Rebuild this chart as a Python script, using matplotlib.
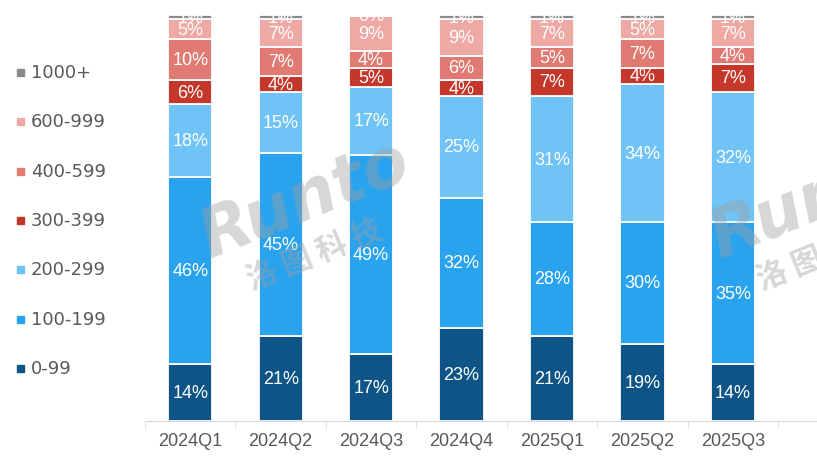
import matplotlib
matplotlib.use("Agg")
import matplotlib.pyplot as plt
import numpy as np

quarters = ["2024Q1", "2024Q2", "2024Q3", "2024Q4", "2025Q1", "2025Q2", "2025Q3"]
bands = ["0-99", "100-199", "200-299", "300-399", "400-599", "600-999", "1000+"]

# share (%) of each price band per quarter, bottom to top
s_0_99 = [14, 21, 16.6, 23, 21, 19, 14]
s_100_199 = [46, 45, 49.0, 32, 28, 30, 35]
s_200_299 = [18, 15, 16.6, 25, 31, 34, 32]
s_300_399 = [6, 4, 4.8, 4, 7, 4, 7]
s_400_599 = [10, 7, 4.2, 6, 5, 7, 4]
s_600_999 = [5, 7, 8.6, 9, 7, 5, 7]
s_1000 = [1, 1, 0.2, 1, 1, 1, 1]

series = [s_0_99, s_100_199, s_200_299, s_300_399, s_400_599, s_600_999, s_1000]
colors = ["#0E5486", "#29A3EE", "#70C3F7", "#C5372A", "#E17A72", "#EFA9A4", "#8A8A8A"]

W, H = 817, 460
fig = plt.figure(figsize=(W / 100, H / 100), dpi=100)
ax = fig.add_axes([145 / W, 1 - 422 / H, (W - 145) / W, (422 - 16) / H])

label_font = ["Liberation Sans Narrow", "Liberation Sans", "DejaVu Sans"]
x = np.arange(len(quarters))
bottom = np.zeros(len(quarters))
for vals, color in zip(series, colors):
    vals = np.asarray(vals, dtype=float)
    ax.bar(x, vals, bottom=bottom, width=0.49, color=color,
           edgecolor="white", linewidth=1.3, zorder=2)
    for xi, b, v in zip(x, bottom, vals):
        ax.text(xi, b + v / 2, f"{v:.0f}%", ha="center", va="center",
                color="white", fontsize=13, family=label_font,
                clip_on=True, zorder=3)
    bottom += vals

ax.set_ylim(0, 100)
ax.set_xlim(-0.5, 6.93)
ax.set_yticks([])
for side in ("left", "right", "top"):
    ax.spines[side].set_visible(False)
ax.spines["bottom"].set_color("#D9D9D9")
ax.set_xticks(x)
ax.set_xticklabels(quarters, family=label_font, fontsize=13, color="#595959")
ax.tick_params(axis="x", which="major", length=0, pad=8)
ax.set_xticks(np.arange(-0.5, 7.0, 1.0), minor=True)
ax.tick_params(axis="x", which="minor", length=5, color="#D9D9D9")

# legend on the left, top item is the highest band
leg_y = [369, 320, 270, 221, 172, 122, 73]
for band, color, yy in zip(bands, colors, leg_y):
    fig.patches.append(plt.Rectangle((17 / W, 1 - (yy + 3.5) / H), 7 / W, 7 / H,
                                     transform=fig.transFigure, color=color))
    fig.text(31 / W, 1 - yy / H, band, ha="left", va="center",
             fontsize=13, color="#595959", family="DejaVu Sans")

# watermark
wm_font = ["Noto Sans CJK SC", "DejaVu Sans"]
for dx in (0, 510):
    fig.text((305 + dx) / W, 1 - 200 / H, "Runto", ha="center", va="center",
             fontsize=48, style="italic", weight="bold", family="DejaVu Sans",
             color="#A0A0A0", alpha=0.42, rotation=22, zorder=10)
    fig.text((315 + dx) / W, 1 - 255 / H, "洛 图 科 技", ha="center", va="center",
             fontsize=22, weight="bold", family=wm_font,
             color="#A0A0A0", alpha=0.42, rotation=22, zorder=10)

fig.savefig("out.png", dpi=100)
